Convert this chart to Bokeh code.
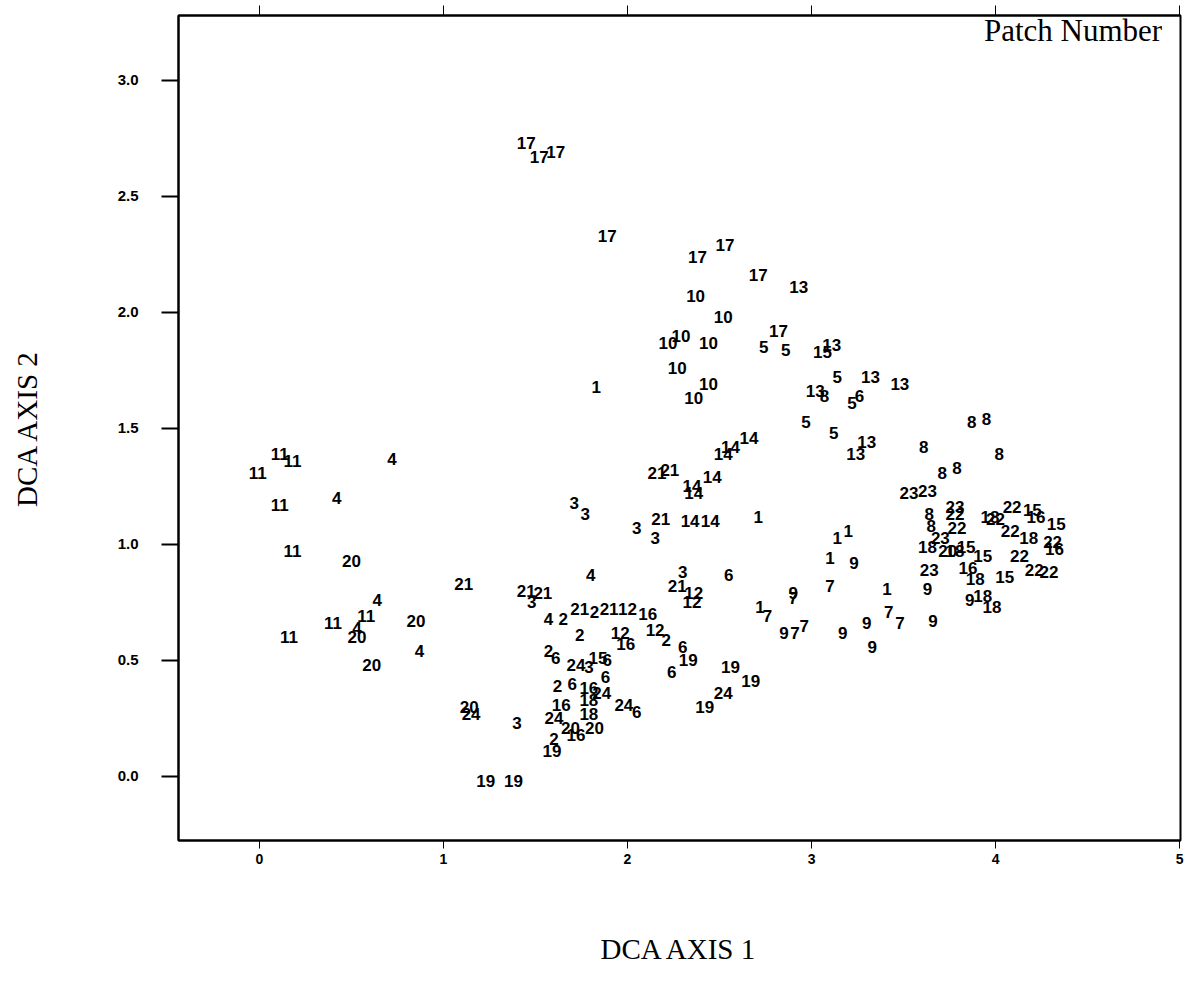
from bokeh.plotting import figure
from bokeh.models import (Range1d, LinearAxis, FixedTicker, ColumnDataSource, Label,
                          PrintfTickFormatter, CustomJSTickFormatter)
from bokeh.embed import file_html
from bokeh.resources import INLINE
from bokeh.core.properties import value

# Patch numbers (text labels) with their DCA scores
patch = ["11", "11", "11", "11", "4", "4", "11", "20", "21", "4",
         "11", "11", "4", "20", "11", "20", "4", "20", "20", "24",
         "4", "21", "21", "3", "4", "2", "21", "2", "21", "12",
         "16", "12", "2", "12", "16", "2", "2", "6", "24", "3",
         "15", "6", "6", "2", "6", "16", "24", "16", "18", "24",
         "6", "24", "18", "20", "20", "16", "2", "19", "3", "19",
         "19", "3", "3", "3", "21", "3", "14", "14", "14", "14",
         "3", "21", "12", "12", "6", "6", "19", "6", "19", "19",
         "24", "19", "1", "1", "1", "1", "9", "7", "9", "7",
         "1", "7", "9", "7", "7", "9", "9", "9", "1", "7",
         "7", "9", "23", "9", "17", "17", "17", "13", "10", "10",
         "10", "10", "10", "17", "5", "5", "10", "1", "10", "10",
         "15", "13", "5", "13", "8", "5", "6", "5", "5", "14",
         "14", "14", "21", "21", "14", "13", "13", "13", "13", "8",
         "8", "8", "8", "8", "8", "23", "23", "23", "22", "8",
         "8", "22", "18", "22", "22", "15", "16", "15", "22", "18",
         "22", "16", "18", "23", "20", "18", "15", "15", "22", "22",
         "22", "15", "16", "18", "9", "18", "18", "17", "17", "17",
         "17"]

axis1 = [0.11, 0.18, -0.01, 0.11, 0.72, 0.42, 0.18, 0.50, 1.11, 0.64,
         0.40, 0.58, 0.53, 0.53, 0.16, 0.85, 0.87, 0.61, 1.14, 1.15,
         1.80, 1.45, 1.54, 1.48, 1.57, 1.65, 1.74, 1.82, 1.90, 2.00,
         2.11, 2.15, 2.21, 1.96, 1.99, 1.74, 1.57, 1.61, 1.72, 1.79,
         1.84, 1.89, 1.88, 1.62, 1.70, 1.79, 1.86, 1.64, 1.79, 1.98,
         2.05, 1.60, 1.79, 1.82, 1.69, 1.72, 1.60, 1.59, 1.40, 1.23,
         1.38, 1.71, 1.77, 2.05, 2.18, 2.15, 2.35, 2.36, 2.34, 2.45,
         2.30, 2.27, 2.36, 2.35, 2.55, 2.30, 2.33, 2.24, 2.56, 2.67,
         2.52, 2.42, 2.71, 3.14, 3.20, 3.10, 3.23, 3.10, 2.90, 2.90,
         2.72, 2.76, 2.85, 2.91, 2.96, 3.17, 3.30, 3.33, 3.41, 3.42,
         3.48, 3.63, 3.64, 3.66, 1.89, 2.38, 2.71, 2.93, 2.37, 2.52,
         2.22, 2.29, 2.44, 2.82, 2.74, 2.86, 2.27, 1.83, 2.44, 2.36,
         3.06, 3.11, 3.14, 3.02, 3.07, 3.22, 3.26, 2.97, 3.12, 2.66,
         2.56, 2.52, 2.16, 2.23, 2.46, 3.32, 3.48, 3.30, 3.24, 3.61,
         3.71, 3.79, 3.87, 3.95, 4.02, 3.53, 3.63, 3.78, 3.78, 3.64,
         3.65, 3.79, 3.97, 4.00, 4.09, 4.20, 4.22, 4.33, 4.08, 4.18,
         4.31, 4.32, 3.63, 3.70, 3.74, 3.78, 3.84, 3.93, 4.13, 4.21,
         4.29, 4.05, 3.85, 3.89, 3.86, 3.93, 3.98, 1.45, 1.52, 1.61,
         2.53]

axis2 = [1.39, 1.36, 1.31, 1.17, 1.37, 1.20, 0.97, 0.93, 0.83, 0.76,
         0.66, 0.69, 0.64, 0.60, 0.60, 0.67, 0.54, 0.48, 0.30, 0.27,
         0.87, 0.80, 0.79, 0.75, 0.68, 0.68, 0.72, 0.71, 0.72, 0.72,
         0.70, 0.63, 0.59, 0.62, 0.57, 0.61, 0.54, 0.51, 0.48, 0.47,
         0.51, 0.50, 0.43, 0.39, 0.40, 0.38, 0.36, 0.31, 0.33, 0.31,
         0.28, 0.25, 0.27, 0.21, 0.21, 0.18, 0.16, 0.11, 0.23, -0.02,
         -0.02, 1.18, 1.13, 1.07, 1.11, 1.03, 1.25, 1.22, 1.10, 1.10,
         0.88, 0.82, 0.79, 0.75, 0.87, 0.56, 0.50, 0.45, 0.47, 0.41,
         0.36, 0.30, 1.12, 1.03, 1.06, 0.94, 0.92, 0.82, 0.79, 0.77,
         0.73, 0.69, 0.62, 0.62, 0.65, 0.62, 0.66, 0.56, 0.81, 0.71,
         0.66, 0.81, 0.89, 0.67, 2.33, 2.24, 2.16, 2.11, 2.07, 1.98,
         1.87, 1.90, 1.87, 1.92, 1.85, 1.84, 1.76, 1.68, 1.69, 1.63,
         1.83, 1.86, 1.72, 1.66, 1.64, 1.61, 1.64, 1.53, 1.48, 1.46,
         1.42, 1.39, 1.31, 1.32, 1.29, 1.72, 1.69, 1.44, 1.39, 1.42,
         1.31, 1.33, 1.53, 1.54, 1.39, 1.22, 1.23, 1.16, 1.13, 1.13,
         1.08, 1.07, 1.12, 1.11, 1.16, 1.15, 1.12, 1.09, 1.06, 1.03,
         1.01, 0.98, 0.99, 1.03, 0.97, 0.97, 0.99, 0.95, 0.95, 0.89,
         0.88, 0.86, 0.90, 0.85, 0.76, 0.78, 0.73, 2.73, 2.67, 2.69,
         2.29]

x_ticks = [0, 1, 2, 3, 4, 5]
y_ticks = [0.0, 0.5, 1.0, 1.5, 2.0, 2.5, 3.0]

source = ColumnDataSource(data=dict(x=axis1, y=axis2, label=patch))

p = figure(width=1185, height=994, output_backend="svg", toolbar_location=None,
           x_range=Range1d(-0.44, 5.005), y_range=Range1d(-0.276, 3.28),
           min_border_left=178, min_border_right=5, min_border_top=15,
           min_border_bottom=154, background_fill_color="white",
           border_fill_color="white")
p.grid.visible = False
p.outline_line_color = "black"
p.outline_line_width = 2

p.text(x="x", y="y", text="label", source=source,
       text_font=value("Liberation Sans"), text_font_style="bold",
       text_font_size="17px", text_align="center", text_baseline="middle",
       text_color="black")

xa = p.xaxis[0]
xa.ticker = FixedTicker(ticks=x_ticks)
xa.major_tick_out = 8
xa.major_tick_in = 0
xa.minor_tick_out = 0
xa.minor_tick_in = 0
xa.axis_line_width = 2
xa.major_tick_line_width = 1
xa.major_label_text_font = "Liberation Sans"
xa.major_label_text_font_style = "bold"
xa.major_label_text_font_size = "14px"
xa.major_label_text_color = "black"
xa.major_label_standoff = 5
xa.axis_label = "DCA AXIS 1"
xa.axis_label_text_font = "Liberation Serif"
xa.axis_label_text_font_style = "normal"
xa.axis_label_text_font_size = "29px"
xa.axis_label_text_color = "black"
xa.axis_label_standoff = 66

ya = p.yaxis[0]
ya.ticker = FixedTicker(ticks=y_ticks)
ya.formatter = PrintfTickFormatter(format="%.1f")
ya.major_tick_out = 17
ya.major_tick_in = 0
ya.minor_tick_out = 0
ya.minor_tick_in = 0
ya.axis_line_width = 2
ya.major_tick_line_width = 2
ya.major_label_text_font = "Liberation Sans"
ya.major_label_text_font_style = "bold"
ya.major_label_text_font_size = "15px"
ya.major_label_text_color = "black"
ya.major_label_standoff = 23
ya.axis_label = "DCA AXIS 2"
ya.axis_label_text_font = "Liberation Serif"
ya.axis_label_text_font_style = "normal"
ya.axis_label_text_font_size = "29px"
ya.axis_label_text_color = "black"
ya.axis_label_standoff = 72

top = LinearAxis(ticker=FixedTicker(ticks=x_ticks), major_tick_out=10, major_tick_in=0,
                 minor_tick_out=0, minor_tick_in=0, axis_line_width=2,
                 formatter=CustomJSTickFormatter(code="return ''"),
                 major_label_standoff=0)
p.add_layout(top, "above")

p.add_layout(Label(x=p.x_range.end - 0.1, y=p.y_range.end - 0.065, text="Patch Number",
                   text_font="Liberation Serif", text_font_size="31px",
                   text_align="right", text_baseline="middle", text_color="black"))

open("out.html", "w").write(file_html(p, INLINE))
